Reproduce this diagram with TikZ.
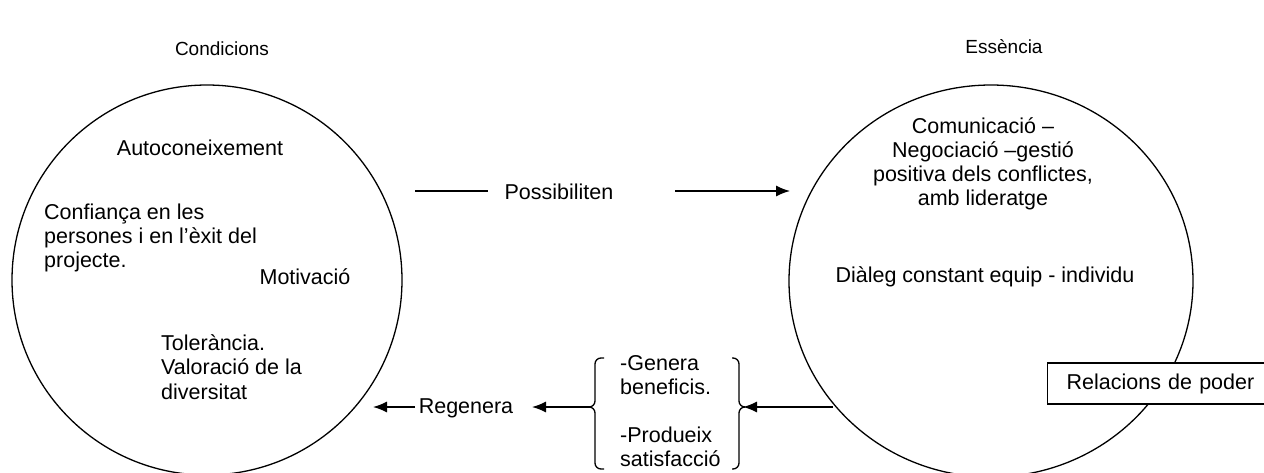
\documentclass[tikz,border=0pt]{standalone}
\usepackage{fontspec}
\setmainfont{Liberation Sans}
\usetikzlibrary{shapes.geometric,arrows.meta}
\begin{document}
\begin{tikzpicture}[x=1pt,y=-1pt,
  lw/.style={line width=1.3pt},
  ring/.style={lw,draw,ellipse,inner sep=0pt},
  txt/.style={inner sep=0pt,font=\fontsize{21.5}{24.2}\selectfont},
  ttl/.style={inner sep=0pt,font=\fontsize{19}{22}\selectfont},
  arr/.style={lw,-{Latex[length=14pt,width=11pt]}},
  brace/.style={lw,rounded corners=6pt}]
\useasboundingbox (0,0) rectangle (1264,472);
% circles
\node[ring,minimum width=390pt,minimum height=390pt] (L) at (207,280) {};
\node[ring,minimum width=404pt,minimum height=392pt] (R) at (991,281) {};
% titles
\node[ttl] (cond) at (222,49) {Condicions};
\node[ttl] (ess) at (1004,47) {Essència};
% left circle texts
\node[txt] (auto) at (200,148) {Autoconeixement};
\node[txt,anchor=west,align=left] (conf) at (44,238) {Confiança en les\\persones i en l’èxit del\\projecte.};
\node[txt] (mot) at (305,277) {Motivació};
\node[txt,anchor=west,align=left] (tol) at (161,367) {Tolerància.\\Valoració de la\\diversitat};
% right circle texts
\node[txt,align=center] (com) at (983,164) {Comunicació –\\Negociació –gestió\\positiva dels conflictes,\\amb lideratge};
\node[txt] (dia) at (985,277) {Diàleg constant equip - individu};
\node[txt,draw,lw,fill=white,anchor=west,minimum height=41pt,text width=260pt,align=left,inner xsep=19pt] (rel) at (1047,383.5) {Relacions de poder};
% Possibiliten
\node[txt] (pos) at (559,192) {Possibiliten};
\coordinate (p1) at (415,191);
\coordinate (p2) at (488,191);
\coordinate (p3) at (675,191);
\coordinate (p4) at (790,191);
\draw[lw] (p1) -- (p2);
\draw[arr] (p3) -- (p4);
% braces
\node[txt,anchor=west,align=left] (ben) at (620,411) {-Genera\\beneficis.\\[24pt]-Produeix\\satisfacció};
\coordinate (lb) at (590,407);
\coordinate (rb) at (743,407);
\draw[brace] (604,358) -- (595,358) -- (595,407) -- (lb);
\draw[brace] (lb) -- (595,407) -- (595,469) -- (604,469);
\draw[brace] (732,358) -- (739,358) -- (739,407) -- (rb);
\draw[brace] (rb) -- (739,407) -- (739,469) -- (732,469);
% bottom arrows
\coordinate (r1) at (833,407);
\draw[arr] (r1) -- (rb);
\coordinate (g1) at (532,407);
\draw[arr] (lb) -- (g1);
\node[txt] (reg) at (466,408) {Regenera};
\coordinate (g2) at (415,407);
\coordinate (g3) at (373,407);
\draw[arr] (g2) -- (g3);
\end{tikzpicture}
\end{document}
